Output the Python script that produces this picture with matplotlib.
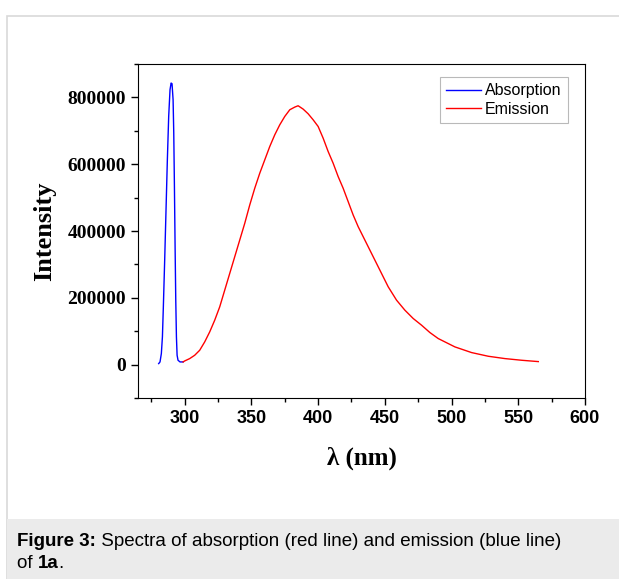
import matplotlib
matplotlib.use('Agg')
import matplotlib.pyplot as plt
from matplotlib.patches import Rectangle
from matplotlib.ticker import MultipleLocator

# absorption (blue)
abs_nm = [280.5, 281.5, 282.5, 283.3, 284.0, 285.0, 286.0, 287.0, 288.0, 289.0, 289.8,
          290.5, 291.3, 291.8, 292.3, 292.8, 293.3, 293.8, 294.3, 295.0, 296.5, 298.8]
abs_int = [3000, 8000, 33000, 83000, 173000, 313000, 463000, 613000, 743000, 823000, 843000,
           841000, 793000, 693000, 533000, 353000, 193000, 83000, 28000, 13000, 8000, 8000]

# emission (red)
em_nm = [298.8, 300, 303.75, 307.5, 311.25, 315, 318.75, 322.5, 326.25, 330, 333.75, 337.5,
         341.25, 345, 348.75, 352.5, 356.25, 360, 363.75, 367.5, 371.25, 375, 378.75, 382.5,
         385, 388.75, 392.5, 396.25, 400, 403.75, 407.5, 411.25, 415, 418.75, 422.5, 426.25,
         430, 433.75, 437.5, 441.25, 446.25, 452.5, 458.75, 465, 471.25, 477.5, 483.75,
         490, 502.5, 515, 527.5, 540, 552.5, 565]
em_int = [8000, 11000, 18000, 28000, 43000, 68000, 98000, 133000, 173000, 223000, 273000,
          323000, 373000, 423000, 478000, 528000, 573000, 613000, 653000, 688000, 718000,
          743000, 763000, 771000, 775000, 765000, 751000, 733000, 713000, 678000, 638000,
          603000, 563000, 528000, 488000, 448000, 413000, 383000, 353000, 323000, 283000,
          233000, 193000, 163000, 138000, 118000, 96000, 78000, 53000, 36000, 25000, 18000,
          13000, 9000]

x_ticks = [300, 350, 400, 450, 500, 550, 600]
y_ticks = [0, 200000, 400000, 600000, 800000]

W, H = 619, 579
fig = plt.figure(figsize=(W / 100, H / 100), dpi=100)

# page frame and caption band
fig.patches.append(Rectangle((6.5 / W, 0), 1, 1 - 15.5 / H, transform=fig.transFigure,
                             fill=False, edgecolor='#d9d9d9', linewidth=1.2))
fig.patches.append(Rectangle((7 / W, 0), 1, 1 - 519 / H, transform=fig.transFigure,
                             facecolor='#ebebeb', edgecolor='none'))

ax = fig.add_axes([138 / W, 1 - 398 / H, (585 - 138) / W, (398 - 64) / H])
ax.plot(abs_nm, abs_int, color='blue', linewidth=1.0, label='Absorption')
ax.plot(em_nm, em_int, color='red', linewidth=1.0, label='Emission')

ax.set_xlim(265, 600)
ax.set_ylim(-100000, 900000)
ax.set_xticks(x_ticks)
ax.set_yticks(y_ticks)
ax.xaxis.set_minor_locator(MultipleLocator(25))
ax.yaxis.set_minor_locator(MultipleLocator(100000))
ax.ticklabel_format(style='plain', axis='y', useOffset=False)
ax.tick_params(which='major', direction='out', length=5, width=1)
ax.tick_params(which='minor', direction='out', length=3, width=1)

for lab in ax.get_xticklabels():
    lab.set_fontfamily('Liberation Sans')
    lab.set_fontweight('bold')
    lab.set_fontsize(13)
for lab in ax.get_yticklabels():
    lab.set_fontfamily('Liberation Serif')
    lab.set_fontweight('bold')
    lab.set_fontsize(14)

ax.set_xlabel('λ (nm)', fontfamily='Liberation Serif', fontweight='bold', fontsize=18, labelpad=14)
ax.set_ylabel('Intensity', fontfamily='Liberation Serif', fontweight='bold', fontsize=19, labelpad=8)

leg = ax.legend(loc='upper right', bbox_to_anchor=(0.962, 0.961), frameon=True, fancybox=False,
                prop={'family': 'Liberation Sans', 'size': 11.5}, handlelength=2.2,
                borderpad=0.4, labelspacing=0.2, handletextpad=0.25, borderaxespad=0)
leg.get_frame().set_edgecolor('#a8a8a8')
leg.get_frame().set_linewidth(0.8)

# caption, pieces placed one after another
cap_fs = 13.5
fig.canvas.draw()
renderer = fig.canvas.get_renderer()


def put_line(parts, x_px, y_px):
    x = x_px
    for s, w in parts:
        t = fig.text(x / W, 1 - y_px / H, s, fontfamily='Liberation Sans', fontweight=w,
                     fontsize=cap_fs, va='center')
        x += t.get_window_extent(renderer).width


put_line([('Figure 3:', 'bold'),
          (' Spectra of absorption (red line) and emission (blue line)', 'normal')], 17, 541)
put_line([('of ', 'normal'), ('1a', 'bold'), ('.', 'normal')], 17, 563)

fig.savefig('out.png', dpi=100)
